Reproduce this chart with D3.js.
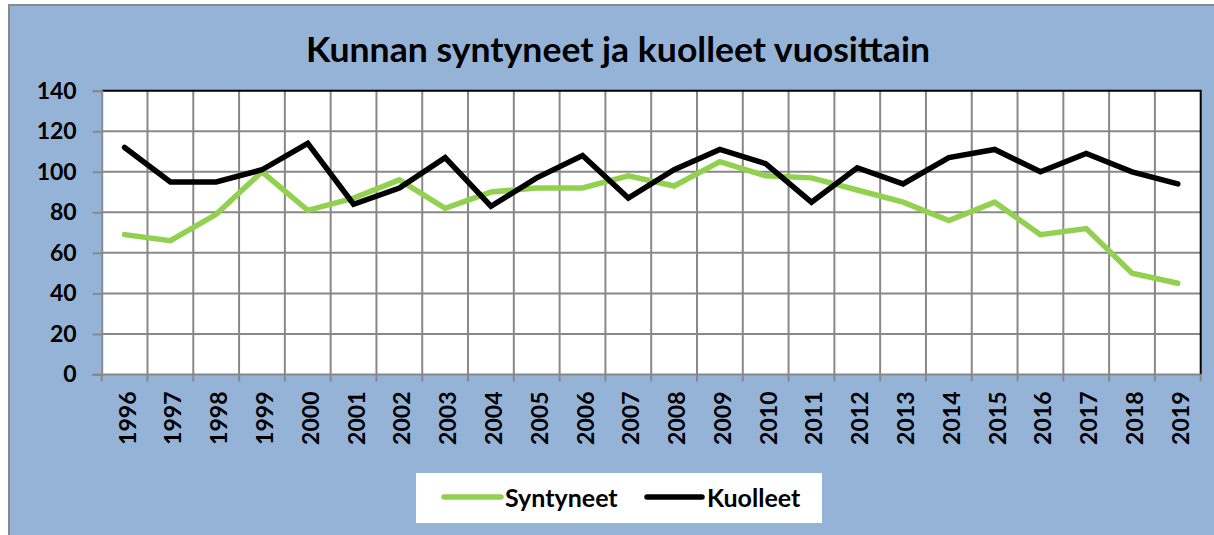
<!DOCTYPE html>
<html>
<head>
<meta charset="utf-8">
<script src="https://cdn.jsdelivr.net/npm/d3@7"></script>
<style>
  html, body { margin: 0; padding: 0; background: #ffffff; }
  svg { display: block; }
</style>
</head>
<body>
<svg id="chart" width="1214" height="535"></svg>
<script>
const titleText = "Kunnan syntyneet ja kuolleet vuosittain";
const years = ["1996","1997","1998","1999","2000","2001","2002","2003","2004","2005","2006","2007",
               "2008","2009","2010","2011","2012","2013","2014","2015","2016","2017","2018","2019"];
const syntyneet = [69,66,79,100,81,87,96,82,90,92,92,98,93,105,98,97,91,85,76,85,69,72,50,45];
const kuolleet  = [112,95,95,101,114,84,92,107,83,97,108,87,101,111,104,85,102,94,107,111,100,109,100,94];
const yTicks = [0,20,40,60,80,100,120,140];
const seriesNames = ["Syntyneet","Kuolleet"];
const seriesColors = ["#92D050","#000000"];

(function(){
const svg = d3.select("#chart");
const FONT = "Lato, 'Open Sans', 'Liberation Sans', sans-serif";

// chart area background
svg.append("rect").attr("x",9).attr("y",5).attr("width",1214).attr("height",540)
  .attr("fill","#95B3D7").attr("stroke","#8a8a8a").attr("stroke-width",2);

const pL = 101.7, pR = 1200.7, pT = 90.7, pB = 374.5;
const x = d3.scaleBand().domain(years).range([pL, pR]).padding(0);
const y = d3.scaleLinear().domain([0,140]).range([pB, pT]);
const cx = d => x(d) + x.bandwidth()/2;

// plot area
svg.append("rect").attr("x",pL).attr("y",pT).attr("width",pR-pL).attr("height",pB-pT)
  .attr("fill","#ffffff");

// horizontal gridlines
svg.append("g").selectAll("line").data(yTicks.filter(t => t>0 && t<140)).join("line")
  .attr("x1",pL).attr("x2",pR).attr("y1",d=>y(d)).attr("y2",d=>y(d))
  .attr("stroke","#888888").attr("stroke-width",2);
// vertical gridlines at category boundaries
svg.append("g").selectAll("line").data(years.slice(1)).join("line")
  .attr("x1",d=>x(d)).attr("x2",d=>x(d)).attr("y1",pT).attr("y2",pB)
  .attr("stroke","#888888").attr("stroke-width",2);

// plot border top & right (black)
svg.append("path")
  .attr("d", `M${pL},${pT}H${pR}V${pB}`)
  .attr("fill","none").attr("stroke","#000").attr("stroke-width",2);

// y axis
const yAxis = svg.append("g").attr("transform",`translate(${pL},0)`)
  .call(d3.axisLeft(y).tickValues(yTicks).tickSize(9).tickPadding(16));
yAxis.select(".domain").attr("stroke","#888888").attr("stroke-width",2);
yAxis.selectAll(".tick line").attr("stroke","#888888").attr("stroke-width",2);
yAxis.selectAll(".tick text").attr("font-family",FONT).attr("font-weight","bold")
  .attr("font-size",23).attr("fill","#000");

// x axis line + boundary ticks
svg.append("line").attr("x1",pL-9).attr("x2",pR).attr("y1",pB).attr("y2",pB)
  .attr("stroke","#888888").attr("stroke-width",2);
svg.append("g").selectAll("line").data(years).join("line")
  .attr("x1",d=>x(d)).attr("x2",d=>x(d)).attr("y1",pB).attr("y2",pB+7)
  .attr("stroke","#888888").attr("stroke-width",2);
svg.append("line").attr("x1",pR).attr("x2",pR).attr("y1",pB).attr("y2",pB+7)
  .attr("stroke","#888888").attr("stroke-width",2);

// x labels rotated
const xAxis = svg.append("g").attr("transform",`translate(0,${pB})`)
  .call(d3.axisBottom(x).tickSize(0).tickPadding(0));
xAxis.select(".domain").remove();
xAxis.selectAll(".tick text")
  .attr("font-family",FONT).attr("font-weight","bold").attr("font-size",23).attr("fill","#000")
  .attr("text-anchor","end").attr("dy",null).attr("y",0)
  .attr("transform","translate(2,17) rotate(-90)")
  .attr("dominant-baseline","central");

// lines
const line = d3.line().x(d=>cx(d.year)).y(d=>y(d.v));
const series = [syntyneet, kuolleet];
series.forEach((vals,i) => {
  svg.append("path")
    .datum(years.map((yr,j)=>({year:yr, v:vals[j]})))
    .attr("d", line).attr("fill","none")
    .attr("stroke", seriesColors[i]).attr("stroke-width",5.5)
    .attr("stroke-linejoin","miter").attr("stroke-miterlimit",3).attr("stroke-linecap","round");
});

// title
svg.append("text").attr("x",618).attr("y",62).attr("text-anchor","middle")
  .attr("font-family",FONT).attr("font-weight","bold").attr("font-size",34)
  .attr("textLength",624).attr("lengthAdjust","spacingAndGlyphs")
  .attr("fill","#000").text(titleText);

// legend
svg.append("rect").attr("x",416).attr("y",473).attr("width",406).attr("height",50).attr("fill","#ffffff");
const legX = [[444,501,505],[647,702,707]];
seriesNames.forEach((name,i) => {
  svg.append("line").attr("x1",legX[i][0]).attr("x2",legX[i][1]).attr("y1",497).attr("y2",497)
    .attr("stroke",seriesColors[i]).attr("stroke-width",5.5).attr("stroke-linecap","round");
  svg.append("text").attr("x",legX[i][2]).attr("y",507)
    .attr("font-family",FONT).attr("font-weight","bold").attr("font-size",25)
    .attr("fill","#000").text(name);
});
})();
</script>
</body>
</html>
